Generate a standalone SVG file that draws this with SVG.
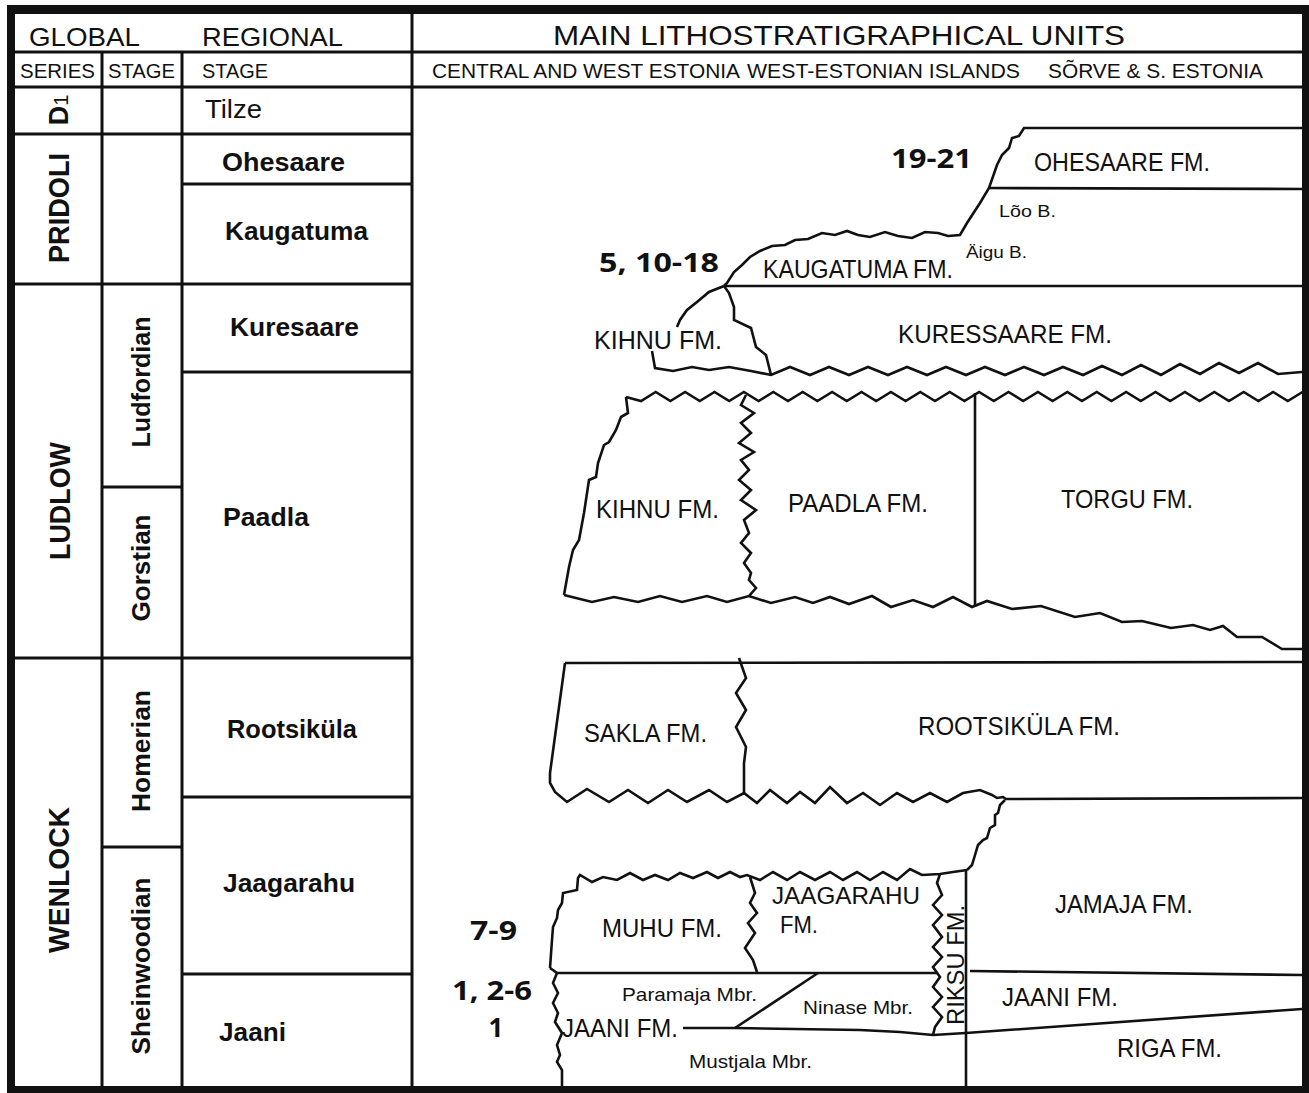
<svg xmlns="http://www.w3.org/2000/svg" width="1309" height="1093" viewBox="0 0 1309 1093">
<style>
.grid{fill:none;stroke:#111;stroke-width:3}
.bd{fill:none;stroke:#111;stroke-width:2.6;stroke-linejoin:miter;stroke-miterlimit:10}
.t{font-family:"Liberation Sans",Arial,sans-serif;fill:#111}
.b{font-weight:bold}
.n{font-family:"Open Sans","Liberation Sans",sans-serif;font-weight:700;fill:#111}
.h1{font-size:26px}
.h2{font-size:19.5px}
.st{font-size:25px}
.fm{font-size:26px}
.sm{font-size:17px}
.mb{font-size:19px}
.num{font-size:26px}
</style>
<rect width="1309" height="1093" fill="#fff"/>
<!-- outer frame -->
<path d="M7,5 H1309 V1093 H7 Z M15,14 H1302 V1086 H15 Z" fill="#111" fill-rule="evenodd"/>
<!-- table grid -->
<g id="grid" class="grid">
<path d="M15,52 H1302 M15,87 H1302 M412,14 V1086 M102,52 V1086 M182,52 V1086"/>
<path d="M15,134 H412 M182,184 H412 M15,284 H412 M182,372 H412 M102,487 H182 M15,658 H412 M182,797 H412 M102,847 H182 M182,974 H412"/>
</g>
<!-- header -->
<g id="header">
<text class="t h1" x="29" y="46" textLength="111" lengthAdjust="spacingAndGlyphs">GLOBAL</text>
<text class="t h1" x="202" y="46" textLength="141" lengthAdjust="spacingAndGlyphs">REGIONAL</text>
<text class="t" font-size="28" x="553" y="45" textLength="572" lengthAdjust="spacingAndGlyphs">MAIN LITHOSTRATIGRAPHICAL UNITS</text>
<text class="t h2" x="20" y="78" textLength="75" lengthAdjust="spacingAndGlyphs">SERIES</text>
<text class="t h2" x="108" y="78" textLength="67" lengthAdjust="spacingAndGlyphs">STAGE</text>
<text class="t h2" x="202" y="78" textLength="66" lengthAdjust="spacingAndGlyphs">STAGE</text>
<text class="t h2" x="432" y="78" textLength="308" lengthAdjust="spacingAndGlyphs">CENTRAL AND WEST ESTONIA</text>
<text class="t h2" x="747" y="78" textLength="273" lengthAdjust="spacingAndGlyphs">WEST-ESTONIAN ISLANDS</text>
<text class="t h2" x="1048" y="78" textLength="215" lengthAdjust="spacingAndGlyphs">SÕRVE &amp; S. ESTONIA</text>
</g>
<!-- series -->
<g id="series">
<text class="t" transform="translate(68,110) rotate(-90)" text-anchor="middle"><tspan font-weight="bold" font-size="27">D</tspan><tspan font-size="20">1</tspan></text>
<text class="t b" font-size="29" transform="translate(69,208) rotate(-90)" text-anchor="middle" textLength="110" lengthAdjust="spacingAndGlyphs">PRIDOLI</text>
<text class="t b" font-size="29" transform="translate(70,501) rotate(-90)" text-anchor="middle" textLength="118" lengthAdjust="spacingAndGlyphs">LUDLOW</text>
<text class="t b" font-size="29" transform="translate(69,880) rotate(-90)" text-anchor="middle" textLength="146" lengthAdjust="spacingAndGlyphs">WENLOCK</text>
</g>
<!-- global stages -->
<g id="stages">
<text class="t b" font-size="26" transform="translate(150,382) rotate(-90)" text-anchor="middle" textLength="131" lengthAdjust="spacingAndGlyphs">Ludfordian</text>
<text class="t b" font-size="26" transform="translate(150,568) rotate(-90)" text-anchor="middle" textLength="107" lengthAdjust="spacingAndGlyphs">Gorstian</text>
<text class="t b" font-size="26" transform="translate(150,751) rotate(-90)" text-anchor="middle" textLength="122" lengthAdjust="spacingAndGlyphs">Homerian</text>
<text class="t b" font-size="26" transform="translate(150,966) rotate(-90)" text-anchor="middle" textLength="177" lengthAdjust="spacingAndGlyphs">Sheinwoodian</text>
</g>
<!-- regional stages -->
<g id="regional">
<text class="t st" x="205" y="118" textLength="57" lengthAdjust="spacingAndGlyphs">Tilze</text>
<text class="t b st" x="222" y="171" textLength="123" lengthAdjust="spacingAndGlyphs">Ohesaare</text>
<text class="t b st" x="225" y="240" textLength="143" lengthAdjust="spacingAndGlyphs">Kaugatuma</text>
<text class="t b st" x="230" y="336" textLength="129" lengthAdjust="spacingAndGlyphs">Kuresaare</text>
<text class="t b st" x="223" y="526" textLength="86" lengthAdjust="spacingAndGlyphs">Paadla</text>
<text class="t b st" x="227" y="738" textLength="130" lengthAdjust="spacingAndGlyphs">Rootsiküla</text>
<text class="t b st" x="223" y="892" textLength="132" lengthAdjust="spacingAndGlyphs">Jaagarahu</text>
<text class="t b st" x="219" y="1041" textLength="67" lengthAdjust="spacingAndGlyphs">Jaani</text>
</g>
<!-- formation boundaries -->
<g id="boundaries" class="bd">
<path d="M1302,128 L1024,128 L1019,136 L1012,138 L1009,148 L1002,155 L997,165 L989,188 L980,203 L967,223 L960,235 L948,236 L938,233 L925,232 L912,238 L898,236 L885,232 L870,237 L858,235 L847,231 L835,235 L822,233 L808,239 L795,240 L785,245 L772,246 L760,251 L750,257 L742,265 L734,272 L727,283 L724,286"/>
<path d="M989,188 L1302,189"/>
<path d="M724,286 L1302,286"/>
<path d="M724,286 L709,292 L697,302 L687,310 L680,320 L677,327"/>
<path d="M652,351 L655,368 L673,371 L692,367 L709,370 L729,367 L751,371 L771,375 L790,367 L810,375 L829,367 L849,375 L868,367 L888,375 L907,367 L927,375 L946,367 L966,375 L985,367 L1005,375 L1024,367 L1044,375 L1063,367 L1083,375 L1102,366 L1122,375 L1141,365 L1161,375 L1180,364 L1200,374 L1219,363 L1239,373 L1258,363 L1278,374 L1302,372"/>
<path d="M724,286 L729,293 L734,307 L734,320 L751,328 L756,347 L766,355 L771,375"/>
<path d="M626,397 l15,4 l14.7,-9 14.7,9 14.7,-9 14.7,9 14.7,-9 14.7,9 14.7,-9 14.7,9 14.7,-9 14.7,9 14.7,-9 14.7,9 14.7,-9 14.7,9 14.7,-9 14.7,9 14.7,-9 14.7,9 14.7,-9 14.7,9 14.7,-9 14.7,9 14.7,-9 14.7,9 14.7,-9 14.7,9 14.7,-9 14.7,9 14.7,-9 14.7,9 14.7,-9 14.7,9 14.7,-9 14.7,9 14.7,-9 14.7,9 14.7,-9 14.7,9 14.7,-9 14.7,9 14.7,-9 14.7,9 14.7,-9 14.7,9 14.7,-9"/>
<path d="M626,397 L628,413 L621,417 L616,430 L609,442 L604,445 L598,463 L596,477 L589,480 L584,513 L579,540 L573,550 L569,567 L564,595"/>
<path d="M564,595 L592,602 L614,597 L638,602 L660,596 L682,602 L707,596 L727,602 L749,596 L771,603 L795,597 L813,603 L830,597 L849,604 L872,596 L891,607 L913,600 L933,607 L953,597 L972,607 L987,601 L1012,609 L1041,606 L1075,617 L1100,613 L1122,622 L1142,621 L1171,628 L1193,625 L1210,630 L1223,626 L1237,637 L1262,637 L1282,649 L1302,649"/>
<path d="M746,395 L741,405 L754,413 L741,423 L751,433 L739,443 L754,452 L741,460 L749,470 L739,480 L751,490 L741,500 L756,510 L744,520 L749,533 L741,543 L751,553 L744,563 L751,573 L749,580 L756,588 L749,596"/>
<path d="M975,393 L975,607"/>
<path d="M565,663 L1302,662"/>
<path d="M565,663 L550,773 L550,783 L555,792 L567,802 L587,789 L609,802 L628,790 L648,803 L668,790 L687,802 L709,790 L727,802 L744,793 L757,803 L770,790 L787,803 L800,792 L815,803 L830,787 L847,803 L863,793 L880,805 L897,793 L913,802 L930,793 L947,802 L963,793 L980,790 L992,795 L997,798 L1003,797 L1006,799 L1302,798"/>
<path d="M739,658 L746,678 L736,693 L746,710 L736,727 L746,747 L744,763 L744,793"/>
<path d="M1005,800 L1000,805 L998,813 L995,815 L995,825 L990,828 L987,838 L983,840 L978,845 L975,855 L972,865 L967,870"/>
<path d="M550,968 L552,940 L553,927 L557,918 L558,910 L562,903 L563,893 L577,890 L578,878 L580,875 L592,882 L603,877 L617,880 L630,873 L643,880 L655,875 L668,880 L680,873 L693,878 L707,872 L718,878 L730,872 L740,877 L747,875 L760,880 L773,872 L787,880 L800,872 L815,880 L830,872 L843,880 L857,872 L870,880 L883,872 L897,880 L910,869 L922,875 L940,874 L953,872 L967,870"/>
<path d="M750,877 L755,893 L750,903 L757,913 L748,923 L755,933 L745,948 L753,960 L757,972"/>
<path d="M940,874 L937,883 L942,895 L933,905 L942,915 L933,925 L942,937 L933,947 L942,957 L933,967 L940,977 L933,987 L942,997 L933,1007 L942,1017 L935,1027 L933,1035"/>
<path d="M966,870 L966,1087"/>
<path d="M557,973 L937,973"/>
<path d="M970,971 L1302,975"/>
<path d="M550,968 L557,973 L553,983 L558,993 L553,1003 L558,1013 L555,1022 L562,1033 L557,1045 L560,1055 L557,1062 L562,1070 L562,1087"/>
<path d="M683,1028 L735,1028 L860,1030 L900,1032 L933,1035 L966,1033 L1302,1009"/>
<path d="M735,1028 L818,973"/>
</g>
<!-- formation labels -->
<g id="formations">
<text class="t fm" x="1034" y="171" textLength="176" lengthAdjust="spacingAndGlyphs">OHESAARE FM.</text>
<text class="t sm" x="999" y="217" textLength="57" lengthAdjust="spacingAndGlyphs">Lõo B.</text>
<text class="t fm" x="763" y="278" textLength="190" lengthAdjust="spacingAndGlyphs">KAUGATUMA FM.</text>
<text class="t sm" x="966" y="258" textLength="61" lengthAdjust="spacingAndGlyphs">Äigu B.</text>
<text class="t fm" x="594" y="349" textLength="128" lengthAdjust="spacingAndGlyphs">KIHNU FM.</text>
<text class="t fm" x="898" y="343" textLength="214" lengthAdjust="spacingAndGlyphs">KURESSAARE FM.</text>
<text class="t fm" x="596" y="518" textLength="123" lengthAdjust="spacingAndGlyphs">KIHNU FM.</text>
<text class="t fm" x="788" y="512" textLength="140" lengthAdjust="spacingAndGlyphs">PAADLA FM.</text>
<text class="t fm" x="1061" y="508" textLength="132" lengthAdjust="spacingAndGlyphs">TORGU FM.</text>
<text class="t fm" x="584" y="742" textLength="123" lengthAdjust="spacingAndGlyphs">SAKLA FM.</text>
<text class="t fm" x="918" y="735" textLength="202" lengthAdjust="spacingAndGlyphs">ROOTSIKÜLA FM.</text>
<text class="t fm" x="602" y="937" textLength="120" lengthAdjust="spacingAndGlyphs">MUHU FM.</text>
<text class="t" font-size="24" x="772" y="904" textLength="148" lengthAdjust="spacingAndGlyphs">JAAGARAHU</text>
<text class="t" font-size="24" x="780" y="933" textLength="38" lengthAdjust="spacingAndGlyphs">FM.</text>
<text class="t fm" x="1055" y="913" textLength="138" lengthAdjust="spacingAndGlyphs">JAMAJA FM.</text>
<text class="t" font-size="23" transform="translate(964,965) rotate(-90)" text-anchor="middle" textLength="120" lengthAdjust="spacingAndGlyphs">RIKSU FM.</text>
<text class="t mb" x="622" y="1001" textLength="135" lengthAdjust="spacingAndGlyphs">Paramaja Mbr.</text>
<text class="t mb" x="803" y="1014" textLength="110" lengthAdjust="spacingAndGlyphs">Ninase Mbr.</text>
<text class="t fm" x="562" y="1037" textLength="116" lengthAdjust="spacingAndGlyphs">JAANI FM.</text>
<text class="t mb" x="689" y="1068" textLength="123" lengthAdjust="spacingAndGlyphs">Mustjala Mbr.</text>
<text class="t fm" x="1002" y="1006" textLength="116" lengthAdjust="spacingAndGlyphs">JAANI FM.</text>
<text class="t fm" x="1117" y="1057" textLength="105" lengthAdjust="spacingAndGlyphs">RIGA FM.</text>
</g>
<!-- sample numbers -->
<g id="numbers">
<text class="n num" x="891" y="168" textLength="81" lengthAdjust="spacingAndGlyphs">19-21</text>
<text class="n num" x="599" y="272" textLength="120" lengthAdjust="spacingAndGlyphs">5, 10-18</text>
<text class="n num" x="470" y="940" textLength="47" lengthAdjust="spacingAndGlyphs">7-9</text>
<text class="n num" x="452" y="1000" textLength="80" lengthAdjust="spacingAndGlyphs">1, 2-6</text>
<text class="n num" x="496" y="1037" text-anchor="middle">1</text>
</g>
</svg>
